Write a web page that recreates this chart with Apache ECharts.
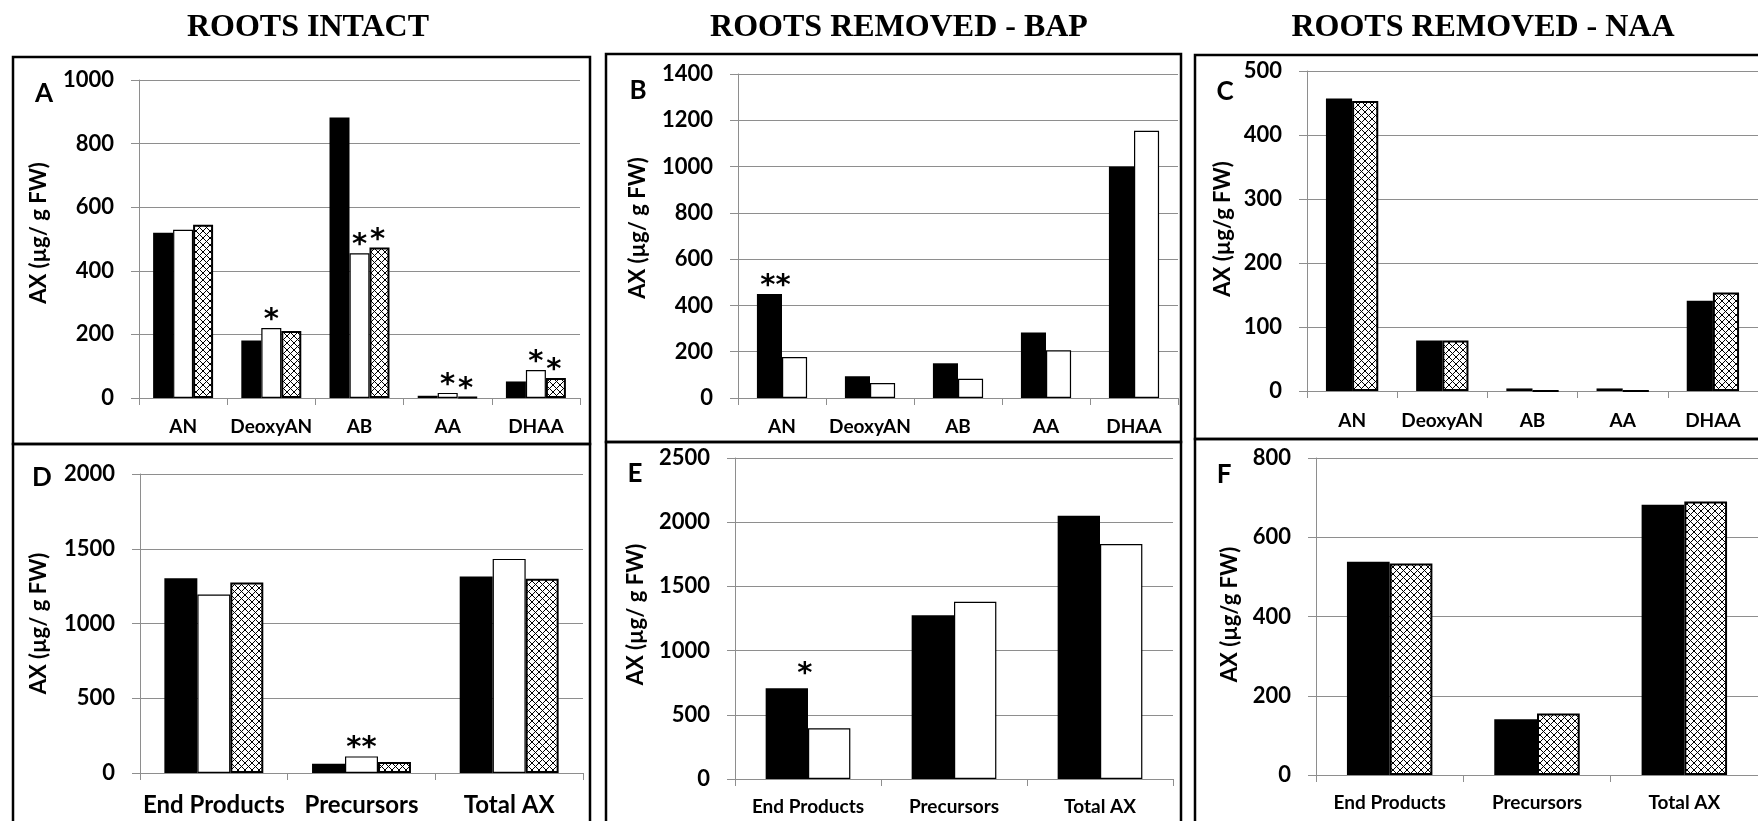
<!DOCTYPE html>
<html>
<head>
<meta charset="utf-8">
<script src="https://cdn.jsdelivr.net/npm/echarts@6/dist/echarts.min.js"></script>
<style>
  html, body { margin: 0; padding: 0; background: #fff; }
  #chart { width: 1758px; height: 821px; }
</style>
</head>
<body>
<div id="chart"></div>
<script>
// ---- data ----
const detailCategories = ['AN', 'DeoxyAN', 'AB', 'AA', 'DHAA'];
const summaryCategories = ['End Products', 'Precursors', 'Total AX'];

// A: roots intact (black, white, hatched)
const intactBlack   = [520, 181, 882, 7, 52];
const intactWhite   = [529, 220, 455, 16, 88];
const intactHatched = [545, 211, 473, 3, 63];
const intactWhiteStars   = ['', '*', '*', '*', '*'];
const intactHatchedStars = ['', '', '*', '*', '*'];

// B: roots removed - BAP (black, white)
const bapBlack = [449, 94, 150, 283, 1000];
const bapWhite = [177, 65, 83, 206, 1155];
const bapBlackStars = ['**', '', '', '', ''];

// C: roots removed - NAA (black, hatched)
const naaBlack   = [457, 79, 4, 4, 141];
const naaHatched = [453, 79, 0, 0, 154];

// D: roots intact totals
const intactSumBlack   = [1303, 62, 1314];
const intactSumWhite   = [1194, 111, 1432];
const intactSumHatched = [1274, 73, 1300];
const intactSumWhiteStars = ['', '**', ''];

// E: roots removed - BAP totals
const bapSumBlack = [706, 1275, 2051];
const bapSumWhite = [395, 1381, 1830];
const bapSumBlackStars = ['*', '', ''];

// F: roots removed - NAA totals
const naaSumBlack   = [538, 141, 682];
const naaSumHatched = [534, 155, 690];

// y-axis extents per panel: [max, step]
const yScaleA = [1000, 200];
const yScaleB = [1400, 200];
const yScaleC = [500, 100];
const yScaleD = [2000, 500];
const yScaleE = [2500, 500];
const yScaleF = [800, 200];

const panelLetters = ['A', 'B', 'C', 'D', 'E', 'F'];
const columnTitles = ['ROOTS INTACT', 'ROOTS REMOVED - BAP', 'ROOTS REMOVED - NAA'];
const axisTitles = ['AX (µg/ g FW)', 'AX (µg/ g FW)', 'AX (µg/g FW)', 'AX (µg/ g FW)', 'AX (µg/ g FW)', 'AX (µg/g FW)'];

// ---- layout ----
const grids = [
  { left: 139,  top: 80,  width: 441, height: 318 }, // A
  { left: 738,  top: 74,  width: 440, height: 324 }, // B
  { left: 1307, top: 71,  width: 451, height: 320 }, // C
  { left: 140,  top: 474, width: 443, height: 299 }, // D
  { left: 735,  top: 458, width: 438, height: 321 }, // E
  { left: 1316, top: 458, width: 442, height: 317 }  // F
];
const scales = [yScaleA, yScaleB, yScaleC, yScaleD, yScaleE, yScaleF];
const catGaps = ['32%', '43%', '42%', '33%', '42%', '42%'];
const xLabelSize = [19, 19, 19, 24, 19, 19];
const xLabelMargin = [19, 19, 20, 20, 18, 18];
const titleOffsets = [100, 100, 84, 101, 99, 86];
const titleShift = [-6, -8, -2, 0, -4, -2];
const boxes = [
  [13, 57, 590, 444], [606, 54, 1181, 442], [1195, 55, 1762, 439],
  [13, 444, 590, 830], [606, 442, 1181, 830], [1195, 439, 1762, 830]
];
const letterPos = [[44, 94], [638, 91], [1225, 92], [42, 478], [635, 474], [1224, 475]];
const titlePos = [308, 899, 1483];

const GRID_GREY = '#8e8e8e';
const LABEL_FONT = 'Lato, "Open Sans", sans-serif';

// cross-hatch fill
function hatchPattern() {
  const c = document.createElement('canvas');
  const s = 7;
  c.width = s; c.height = s;
  const g = c.getContext('2d');
  g.fillStyle = '#fff';
  g.fillRect(0, 0, s, s);
  g.strokeStyle = '#000';
  g.lineWidth = 1;
  g.beginPath();
  g.moveTo(-1, -1); g.lineTo(s + 1, s + 1);
  g.moveTo(-1, s + 1); g.lineTo(s + 1, -1);
  g.stroke();
  return { image: c, repeat: 'repeat' };
}
const HATCH = hatchPattern();

const barStyles = {
  black:   { color: '#000', borderWidth: 0 },
  white:   { color: '#fff', borderColor: '#000', borderWidth: 1.2 },
  hatched: { color: HATCH, borderColor: '#000', borderWidth: 2 }
};

function withStars(values, stars, offset) {
  return values.map((v, i) => (stars && stars[i])
    ? { value: v, label: { show: true, formatter: stars[i], offset: offset || [0, 0] } }
    : v);
}

function bars(gi, values, kind, stars, offset) {
  return {
    type: 'bar',
    xAxisIndex: gi,
    yAxisIndex: gi,
    data: withStars(values, stars, offset),
    barGap: '0%',
    barCategoryGap: catGaps[gi],
    itemStyle: barStyles[kind],
    label: {
      show: false, position: 'top', distance: -7,
      color: '#000', fontSize: 29, fontWeight: 'bold', fontFamily: '"DejaVu Sans", sans-serif'
    },
    emphasis: { disabled: true },
    animation: false
  };
}

const option = {
  backgroundColor: '#fff',
  animation: false,
  grid: grids.map(g => Object.assign({ containLabel: false }, g)),
  xAxis: grids.map((g, i) => ({
    type: 'category',
    gridIndex: i,
    data: i < 3 ? detailCategories : summaryCategories,
    axisLine: { show: true, lineStyle: { color: GRID_GREY, width: 1 } },
    axisTick: { show: true, alignWithLabel: false, length: 7, lineStyle: { color: GRID_GREY } },
    axisLabel: {
      color: '#000', fontWeight: 'bold', fontFamily: LABEL_FONT,
      fontSize: xLabelSize[i], margin: xLabelMargin[i], interval: 0
    },
    splitLine: { show: false }
  })),
  yAxis: grids.map((g, i) => ({
    type: 'value',
    gridIndex: i,
    min: 0,
    max: scales[i][0],
    interval: scales[i][1],
    axisLine: { show: true, lineStyle: { color: GRID_GREY, width: 1 } },
    axisTick: { show: true, length: 8, lineStyle: { color: GRID_GREY } },
    axisLabel: {
      color: '#000', fontWeight: 'bold', fontFamily: LABEL_FONT,
      fontSize: 22, margin: 25,
      formatter: v => String(v)
    },
    splitLine: { show: true, lineStyle: { color: GRID_GREY, width: 1 } }
  })),
  series: [
    bars(0, intactBlack, 'black'),
    bars(0, intactWhite, 'white', intactWhiteStars),
    bars(0, intactHatched, 'hatched', intactHatchedStars, [-2, 0]),
    bars(1, bapBlack, 'black', bapBlackStars, [6, 0]),
    bars(1, bapWhite, 'white'),
    bars(2, naaBlack, 'black'),
    bars(2, naaHatched, 'hatched'),
    bars(3, intactSumBlack, 'black'),
    bars(3, intactSumWhite, 'white', intactSumWhiteStars),
    bars(3, intactSumHatched, 'hatched'),
    bars(4, bapSumBlack, 'black', bapSumBlackStars, [18, -6]),
    bars(4, bapSumWhite, 'white'),
    bars(5, naaSumBlack, 'black'),
    bars(5, naaSumHatched, 'hatched')
  ],
  graphic: [].concat(
    boxes.map(b => ({
      type: 'rect', silent: true, z: 100,
      shape: { x: b[0], y: b[1], width: b[2] - b[0], height: b[3] - b[1] },
      style: { fill: null, stroke: '#000', lineWidth: 2.5 }
    })),
    columnTitles.map((t, i) => ({
      type: 'text', silent: true, x: titlePos[i], y: 28,
      style: {
        text: t, align: 'center', verticalAlign: 'middle',
        font: 'bold 32px "Liberation Serif", "Times New Roman", serif', fill: '#000'
      }
    })),
    panelLetters.map((t, i) => ({
      type: 'text', silent: true, x: letterPos[i][0], y: letterPos[i][1],
      style: {
        text: t, align: 'center', verticalAlign: 'middle',
        font: 'bold 26px ' + LABEL_FONT, fill: '#000'
      }
    })),
    axisTitles.map((t, i) => ({
      type: 'text', silent: true,
      x: grids[i].left - titleOffsets[i],
      y: grids[i].top + grids[i].height / 2 + titleShift[i],
      rotation: Math.PI / 2,
      style: {
        text: t, align: 'center', verticalAlign: 'middle',
        font: 'bold 22px ' + LABEL_FONT, fill: '#000'
      }
    }))
  )
};

const chart = echarts.init(document.getElementById('chart'), null, { renderer: 'canvas' });
chart.setOption(option);
</script>
</body>
</html>
